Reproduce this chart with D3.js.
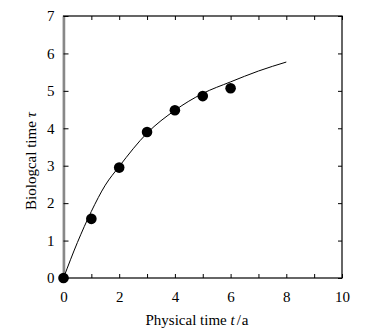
<!DOCTYPE html>
<html>
<head>
<meta charset="utf-8">
<script src="https://cdn.jsdelivr.net/npm/d3@7"></script>
<style>
  body { margin: 0; background: #fff; }
  text { font-family: "Liberation Serif", "Times New Roman", serif; fill: #000; }
</style>
</head>
<body>
<svg class="chart"></svg>
<script>
var width = 370;
var height = 336;

// measured points
var physTime = [0, 1, 2, 3, 4, 5, 6];
var bioTime = [0, 1.58, 2.95, 3.9, 4.48, 4.86, 5.07];

// fitted curve
var curveT = [0, 0.5, 1, 1.5, 2, 3, 4, 5, 6, 7, 8];
var curveTau = [0, 0.95, 1.78, 2.48, 2.98, 3.87, 4.48, 4.93, 5.24, 5.53, 5.77];

var xTicks = [0, 2, 4, 6, 8, 10];
var yTicks = [0, 1, 2, 3, 4, 5, 6, 7];

var margin = {'top': 16, 'right': 28, 'bottom': 58, 'left': 63.5};

var chart = d3.select(".chart")
    .attr("width", width)
    .attr("height", height);

var x = d3.scaleLinear()
  .domain([0, 10])
  .range([margin.left, width - margin.right]);

var y = d3.scaleLinear()
  .domain([0, 7])
  .range([height - margin.bottom, margin.top]);

var minorX = d3.range(0, 11);

// frame: bottom, top, right in black
chart.append('rect')
  .attr('x', x(0))
  .attr('y', y(7))
  .attr('width', x(10) - x(0))
  .attr('height', y(0) - y(7))
  .attr('fill', 'none')
  .attr('stroke', '#000')
  .attr('stroke-width', 1.2);

// bottom axis, ticks inside
var bottomAxis = chart.append('g')
  .attr('transform', 'translate(0,' + y(0) + ')')
  .call(d3.axisBottom(x).tickValues(minorX).tickSizeInner(-4).tickSizeOuter(0)
    .tickFormat(function(d){ return xTicks.indexOf(d) >= 0 ? d : ''; }));
bottomAxis.select('.domain').remove();
bottomAxis.selectAll('text').attr('y', 13).attr('font-size', 15);

// top axis ticks
var topAxis = chart.append('g')
  .attr('transform', 'translate(0,' + y(7) + ')')
  .call(d3.axisTop(x).tickValues(minorX).tickSizeInner(-4).tickSizeOuter(0).tickFormat(''));
topAxis.select('.domain').remove();

// right axis ticks
var rightAxis = chart.append('g')
  .attr('transform', 'translate(' + x(10) + ',0)')
  .call(d3.axisRight(y).tickValues(yTicks).tickSizeInner(-4).tickSizeOuter(0).tickFormat(''));
rightAxis.select('.domain').remove();

// left axis, grey line
var leftAxis = chart.append('g')
  .attr('transform', 'translate(' + x(0) + ',0)')
  .call(d3.axisLeft(y).tickValues(yTicks).tickSizeInner(-5).tickSizeOuter(0).tickFormat(d3.format('d')));
leftAxis.select('.domain').attr('stroke', '#888').attr('stroke-width', 2.5);
leftAxis.selectAll('text').attr('x', -9).attr('font-size', 15);

// fitted curve
var line = d3.line()
  .x(function(d){ return x(d[0]); })
  .y(function(d){ return y(d[1]); })
  .curve(d3.curveMonotoneX);

chart.append('path')
  .datum(d3.zip(curveT, curveTau))
  .attr('d', line)
  .attr('fill', 'none')
  .attr('stroke', '#000')
  .attr('stroke-width', 1);

// data points
chart.append('g')
  .selectAll('circle')
  .data(d3.zip(physTime, bioTime))
  .join('circle')
    .attr('cx', function(d){ return x(d[0]); })
    .attr('cy', function(d){ return y(d[1]); })
    .attr('r', 5.3)
    .attr('fill', '#000');

// axis titles
var xt = chart.append('text')
  .attr('x', 197)
  .attr('y', 325)
  .attr('text-anchor', 'middle')
  .attr('font-size', 15);
xt.append('tspan').text('Physical time ');
xt.append('tspan').attr('font-style', 'italic').text('t');
xt.append('tspan').attr('dx', 2).text('/');
xt.append('tspan').attr('dx', 1).text('a');

var yt = chart.append('text')
  .attr('transform', 'translate(36,161) rotate(-90)')
  .attr('text-anchor', 'middle')
  .attr('font-size', 15);
yt.append('tspan').text('Biologcal time ');
yt.append('tspan').attr('font-style', 'italic').text('τ');
</script>
</body>
</html>
